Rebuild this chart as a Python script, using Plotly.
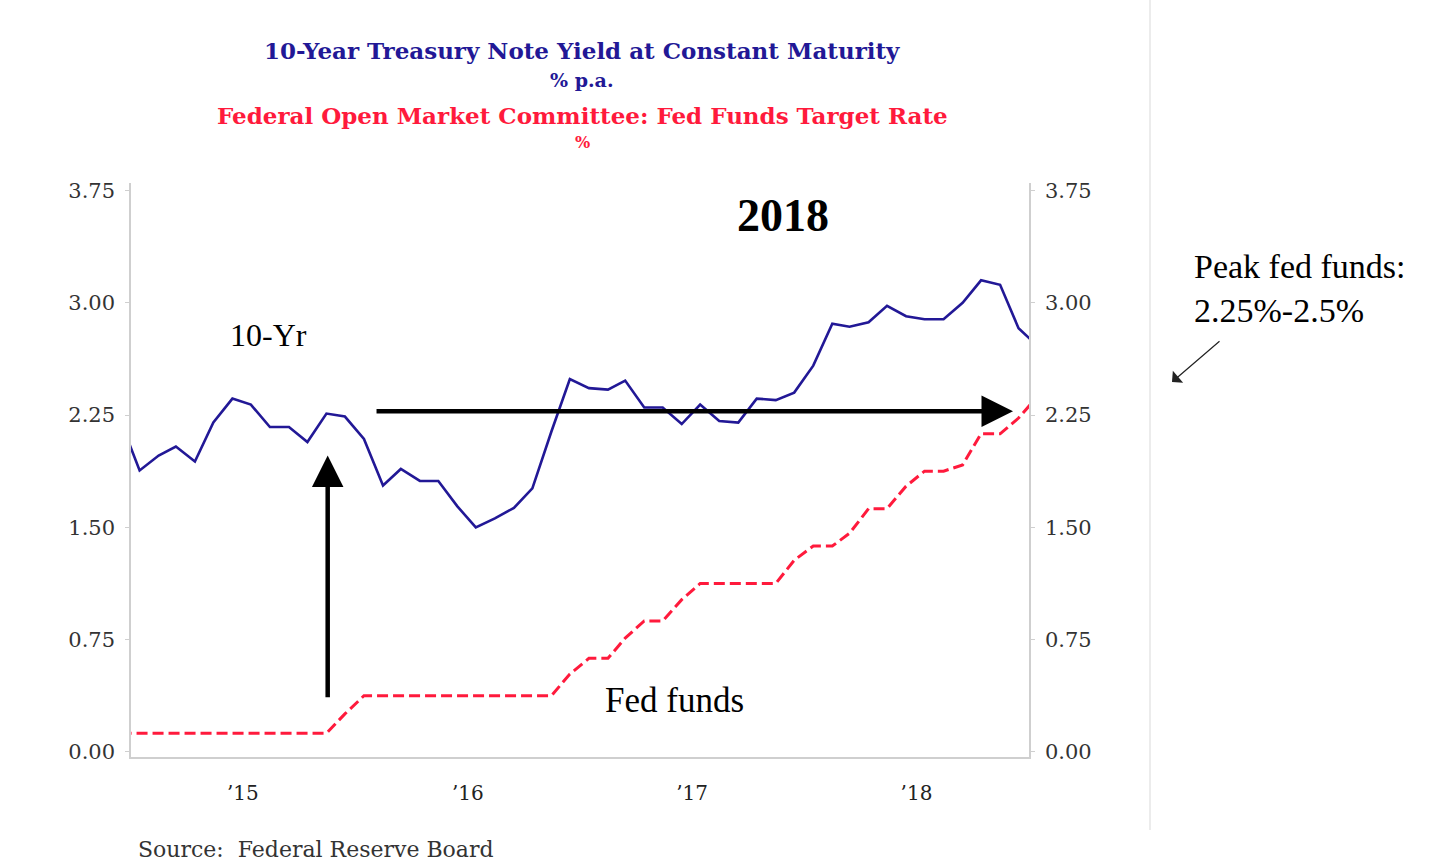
import plotly.graph_objects as go
import pandas as pd

# ---- data (monthly averages, plotted mid-month) ----
months = pd.date_range("2014-12-01", "2019-01-01", freq="MS") + pd.Timedelta(days=14)
ten_year = [2.21,
            1.88, 1.98, 2.04, 1.94, 2.20, 2.36, 2.32, 2.17, 2.17, 2.07, 2.26, 2.24,
            2.09, 1.78, 1.89, 1.81, 1.81, 1.64, 1.50, 1.56, 1.63, 1.76, 2.14, 2.49,
            2.43, 2.42, 2.48, 2.30, 2.30, 2.19, 2.32, 2.21, 2.20, 2.36, 2.35, 2.40,
            2.58, 2.86, 2.84, 2.87, 2.98, 2.91, 2.89, 2.89, 3.00, 3.15, 3.12, 2.83,
            2.71]
fed_funds = [0.125,
             0.125, 0.125, 0.125, 0.125, 0.125, 0.125, 0.125, 0.125, 0.125, 0.125, 0.125, 0.254,
             0.375, 0.375, 0.375, 0.375, 0.375, 0.375, 0.375, 0.375, 0.375, 0.375, 0.375, 0.52,
             0.625, 0.625, 0.76, 0.875, 0.875, 1.017, 1.125, 1.125, 1.125, 1.125, 1.125, 1.28,
             1.375, 1.375, 1.46, 1.625, 1.625, 1.775, 1.875, 1.875, 1.917, 2.125, 2.125, 2.23,
             2.375]
year_ticks = ["2015-07-02", "2016-07-02", "2017-07-02", "2018-07-02"]
year_labels = ["\u201915", "\u201916", "\u201917", "\u201918"]
y_ticks = [0.0, 0.75, 1.5, 2.25, 3.0, 3.75]
y_labels = ["0.00", "0.75", "1.50", "2.25", "3.00", "3.75"]

NAVY = "#221896"
RED = "#ff1a3c"
SERIF = "Liberation Serif"
TICKFONT = "DejaVu Serif"

W, H = 1435, 868
L, R, T, B = 131, 1029, 183, 757


def px(x):
    return (x - L) / (R - L)


def py(y):
    return (B - y) / (B - T)


fig = go.Figure()
fig.add_trace(go.Scatter(x=months, y=ten_year, mode="lines",
                         line=dict(color=NAVY, width=2.6), yaxis="y",
                         showlegend=False, hoverinfo="x+y"))
fig.add_trace(go.Scatter(x=months, y=fed_funds, mode="lines",
                         line=dict(color=RED, width=3, dash="11px,5px"), yaxis="y2",
                         showlegend=False, hoverinfo="x+y"))

yrange = [-0.034, 3.80]
axis_common = dict(range=yrange, tickvals=y_ticks, ticktext=y_labels,
                   showgrid=False, zeroline=False, showline=True,
                   linecolor="#cfcfcf", linewidth=1.5, ticks="outside",
                   ticklen=4, tickcolor="#cfcfcf",
                   tickfont=dict(family=TICKFONT, size=21, color="#333333"))

fig.update_layout(
    width=W, height=H,
    paper_bgcolor="white", plot_bgcolor="white",
    margin=dict(l=L, r=W - R, t=T, b=H - B),
    xaxis=dict(range=["2015-01-01", "2019-01-01"], tickvals=year_ticks,
               ticktext=year_labels, showgrid=False, zeroline=False,
               showline=True, linecolor="#cfcfcf", linewidth=1.5,
               ticks="", ticklabelstandoff=17,
               tickfont=dict(family=TICKFONT, size=20, color="#222222")),
    yaxis=dict(**axis_common, ticklabelstandoff=6),
    yaxis2=dict(**axis_common, overlaying="y", side="right",
                ticklabelstandoff=6),
)

# Titles
titles = [
    ("10-Year Treasury Note Yield at Constant Maturity", 582, 50, NAVY, 23),
    ("% p.a.", 582, 80, NAVY, 19),
    ("Federal Open Market Committee: Fed Funds Target Rate", 582, 115, RED, 23),
    ("%", 582, 143, RED, 16),
]
for text, x, y, c, s in titles:
    fig.add_annotation(text=f"<b>{text}</b>", xref="paper", yref="paper",
                       x=px(x), y=py(y), showarrow=False, xanchor="center",
                       yanchor="middle",
                       font=dict(family=TICKFONT, size=s, color=c))

# Text annotations
labels = [
    ("<b>2018</b>", 783, 215, 46),
    ("10-Yr", 268, 335, 32),
    ("Fed funds", 674, 700, 35),
]
for text, x, y, s in labels:
    fig.add_annotation(text=text, xref="paper", yref="paper", x=px(x), y=py(y),
                       xanchor="center", yanchor="middle", showarrow=False,
                       font=dict(family=SERIF, size=s, color="black"))
fig.add_annotation(text="Peak fed funds:<br>2.25%-2.5%", xref="paper", yref="paper",
                   x=px(1192), y=py(288), xanchor="left", yanchor="middle", align="left",
                   showarrow=False, font=dict(family=SERIF, size=34, color="black"))
fig.add_annotation(text="Source:  Federal Reserve Board", xref="paper", yref="paper",
                   x=px(136), y=py(849), xanchor="left", yanchor="middle",
                   showarrow=False, font=dict(family=TICKFONT, size=22, color="#333333"))

# Arrows
fig.add_annotation(x="2018-12-06", y=2.275, ax="2016-02-02", ay=2.275,
                   xref="x", yref="y", axref="x", ayref="y", text="",
                   showarrow=True, arrowhead=2, arrowsize=1.4, arrowwidth=4.5,
                   arrowcolor="black")
fig.add_annotation(x="2015-11-17", y=1.98, ax="2015-11-17", ay=0.355,
                   xref="x", yref="y", axref="x", ayref="y", text="",
                   showarrow=True, arrowhead=2, arrowsize=1.4, arrowwidth=4.5,
                   arrowcolor="black")
fig.add_annotation(x=px(1172), y=py(382), ax=49, ay=-42,
                   xref="paper", yref="paper", text="",
                   showarrow=True, arrowhead=1, arrowsize=2.2, arrowwidth=1.2,
                   arrowcolor="#222222")

# faint slide border line
fig.add_shape(type="line", xref="paper", yref="paper", x0=px(1150), x1=px(1150),
              y0=py(0), y1=py(830), line=dict(color="#e6e6e6", width=1.5))

fig.write_html("out.html")
